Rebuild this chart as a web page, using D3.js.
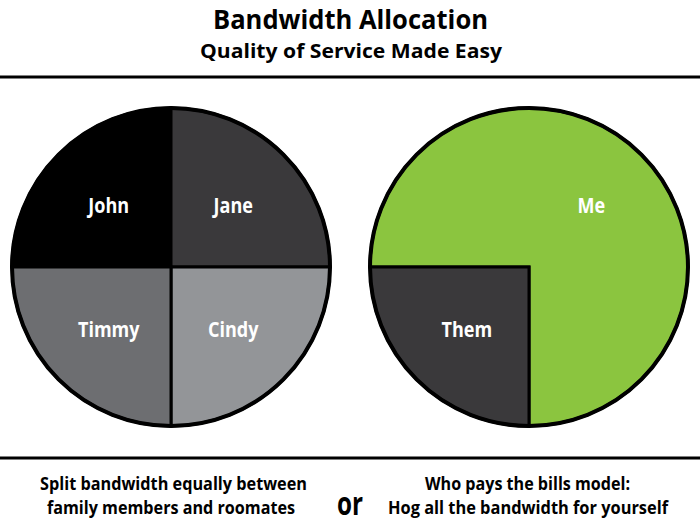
<!DOCTYPE html>
<html>
<head>
<script src="https://d3js.org/d3.v7.min.js"></script>
<style>
  html, body { margin: 0; padding: 0; background: #fff; }
  svg { display: block; }
  text { font-family: "Open Sans", sans-serif; font-weight: bold; }
</style>
</head>
<body>
<div id="chart"></div>
<script>
// data
var leftNames = ["John", "Jane", "Cindy", "Timmy"];
var leftShares = [25, 25, 25, 25];
var leftColors = ["#000000", "#3a393b", "#939598", "#6d6e71"];

var rightNames = ["Me", "Them"];
var rightShares = [75, 25];
var rightColors = ["#8bc53f", "#3a393b"];

var titleLines = ["Bandwidth Allocation", "Quality of Service Made Easy"];
var leftCaption = ["Split bandwidth equally between", "family members and roomates"];
var rightCaption = ["Who pays the bills model:", "Hog all the bandwidth for yourself"];

var width = 700, height = 526;
var svg = d3.select("#chart").append("svg")
    .attr("width", width)
    .attr("height", height);

// squeeze text into a given width (the original uses a condensed face)
function fitText(x, y, size, w, str) {
    return svg.append("text").attr("x", x).attr("y", y)
        .attr("text-anchor", "middle").attr("font-size", size)
        .attr("textLength", w).attr("lengthAdjust", "spacingAndGlyphs")
        .text(str);
}

// title
fitText(350.5, 29, 27, 275, titleLines[0]);
fitText(351, 58, 20, 302, titleLines[1]);

// rules
svg.append("line").attr("x1", 0).attr("x2", width).attr("y1", 77).attr("y2", 77)
    .attr("stroke", "#000").attr("stroke-width", 3);
svg.append("line").attr("x1", 0).attr("x2", width).attr("y1", 458).attr("y2", 458)
    .attr("stroke", "#000").attr("stroke-width", 3);

var r = 159;
var pie = d3.pie().sort(null).startAngle(-Math.PI / 2).endAngle(1.5 * Math.PI);
var arc = d3.arc().innerRadius(0).outerRadius(r);
var labelArc = d3.arc().innerRadius(88).outerRadius(88);

function drawPie(cx, cy, names, shares, colors) {
    var g = svg.append("g").attr("transform", "translate(" + cx + "," + cy + ")");
    var slices = pie(shares);
    g.selectAll("path.slice")
        .data(slices)
        .enter().append("path")
        .attr("class", "slice")
        .attr("d", arc)
        .attr("fill", function(d, i) { return colors[i]; })
        .attr("stroke", "#000")
        .attr("stroke-width", 3);
    g.append("circle").attr("r", r).attr("fill", "none")
        .attr("stroke", "#000").attr("stroke-width", 4);
    g.selectAll("text.lbl")
        .data(slices)
        .enter().append("text")
        .attr("class", "lbl")
        .attr("transform", function(d) {
            var c = labelArc.centroid(d);
            return "translate(" + c[0] + "," + (c[1] + 8) + ") scale(0.82,1)";
        })
        .attr("text-anchor", "middle")
        .attr("font-size", 22)
        .attr("fill", "#fff")
        .text(function(d, i) { return names[i]; });
}

drawPie(171, 267, leftNames, leftShares, leftColors);
drawPie(529, 267, rightNames, rightShares, rightColors);

// captions
fitText(173.5, 490, 18, 267, leftCaption[0]);
fitText(171, 514, 18, 248, leftCaption[1]);
fitText(527.5, 490, 18, 205, rightCaption[0]);
fitText(528, 514, 18, 280, rightCaption[1]);

fitText(350, 515, 33, 26, "or");
</script>
</body>
</html>
